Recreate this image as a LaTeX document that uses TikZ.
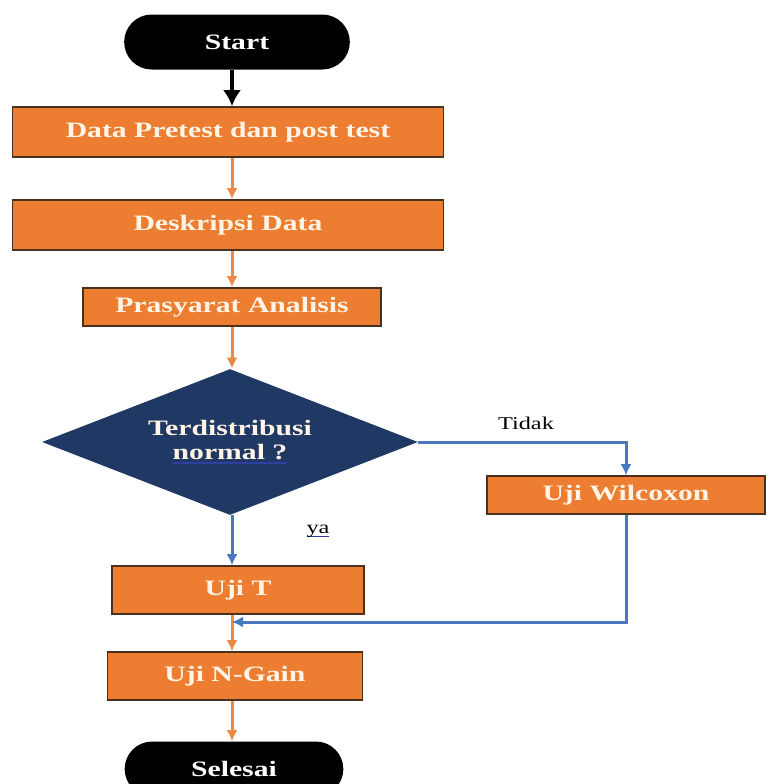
\documentclass[tikz,border=0pt]{standalone}
\usepackage{fontspec}
\setmainfont{Liberation Serif}
\newfontfamily\chartfont[FakeStretch=1.35]{Liberation Serif}
\usepackage{xcolor}
\usetikzlibrary{shapes.geometric,shapes.misc,arrows.meta}

\definecolor{boxorange}{HTML}{ED7D31}
\definecolor{boxline}{HTML}{4A3020}
\definecolor{linkorange}{HTML}{EC8A45}
\definecolor{linkblue}{HTML}{4A78BE}
\definecolor{decnavy}{HTML}{1F3864}
\definecolor{boxtext}{HTML}{FFF4E6}
\definecolor{ulblue}{HTML}{2F3FA0}

% blue underline as in the source
\newcommand{\blueul}[1]{\setbox0\hbox{#1}\rlap{\color{ulblue}\rule[-2.2pt]{\wd0}{0.7pt}}\box0}

\begin{document}
\begin{tikzpicture}[x=0.5pt,y=-0.5pt,>={Latex[length=5.5pt,width=5.5pt]},
  terminal/.style={rounded rectangle, fill=black, text=white,
    font=\chartfont\bfseries\fontsize{11}{12}\selectfont},
  procbox/.style={rectangle, fill=boxorange, draw=boxline, line width=0.8pt,
    text=boxtext, font=\chartfont\bfseries\fontsize{11}{12}\selectfont},
  decision/.style={diamond, aspect=2.5, fill=decnavy, inner sep=0pt, align=center,
    minimum width=188pt, minimum height=73pt, text=boxtext,
    font=\chartfont\bfseries\fontsize{11}{12}\selectfont},
  orangelink/.style={->, draw=linkorange, line width=1.5pt},
  bluelink/.style={->, draw=linkblue, line width=1.5pt},
  note/.style={font=\chartfont\fontsize{9}{10}\selectfont}]
\useasboundingbox (0,0) rectangle (771,784);

% terminals
\node[terminal, minimum width=119.5pt, minimum height=27.5pt] (start) at (237,42) {Start};
\node[terminal, minimum width=116pt, minimum height=27.5pt] (selesai) at (234,769) {Selesai};

% process boxes
\node[procbox, minimum width=215.5pt, minimum height=25pt] (data) at (228,132) {Data Pretest dan post test};
\node[procbox, minimum width=215.5pt, minimum height=25pt] (desk) at (228,225) {Deskripsi Data};
\node[procbox, minimum width=149pt, minimum height=19pt] (pras) at (232,307) {Prasyarat Analisis};
\node[decision] (dec) at (230,442) {Terdistribusi\\\blueul{normal ?}};
\node[procbox, minimum width=139pt, minimum height=19pt] (wil) at (626,495) {Uji Wilcoxon};
\node[procbox, minimum width=126pt, minimum height=24pt] (ujit) at (238,590) {Uji T};
\node[procbox, minimum width=127.5pt, minimum height=24pt] (ngain) at (235,676) {Uji N-Gain};

% labels
\node[note] (tidak) at (526,423) {Tidak};
\node[note] (ya) at (318,531) {\blueul{ya}};

\coordinate (merge) at (232,622);

% connectors
\draw[->, line width=2.4pt, >={Latex[length=8pt,width=9pt]}] (start.south -| 232,0) -- (data.north -| 232,0);
\draw[orangelink] (data.south -| 232,0) -- (desk.north -| 232,0);
\draw[orangelink] (desk.south -| 232,0) -- (pras.north -| 232,0);
\draw[orangelink] (pras.south -| 232,0) -- (dec.north -| 232,0);
\draw[bluelink] (dec.east) -| (wil.north);
\draw[bluelink] (dec.south -| 232,0) -- (ujit.north -| 232,0);
\draw[orangelink] (ujit.south -| 232,0) -- (ngain.north -| 232,0);
\draw[orangelink] (ngain.south -| 232,0) -- (selesai.north -| 232,0);
\draw[bluelink] (wil.south) |- (merge);
\end{tikzpicture}
\end{document}
